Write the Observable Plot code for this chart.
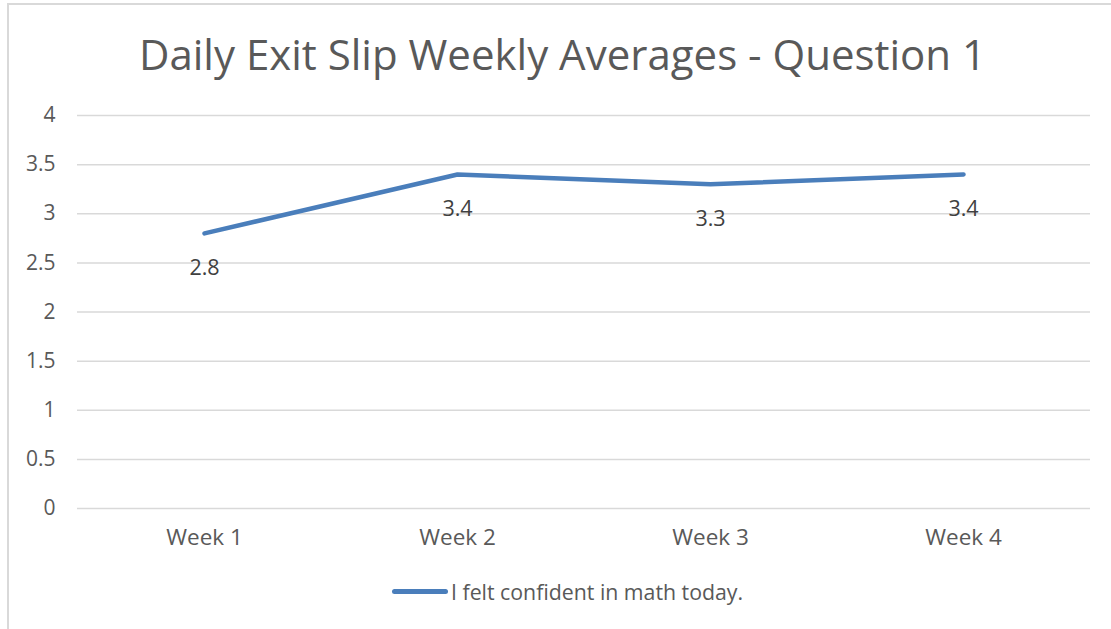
<!DOCTYPE html>
<html>
<head>
<meta charset="utf-8">
<script src="https://cdn.jsdelivr.net/npm/d3@7"></script>
<script src="https://cdn.jsdelivr.net/npm/@observablehq/plot@0.6"></script>
<style>
  html, body { margin: 0; padding: 0; background: #fff; }
  body { width: 1111px; height: 629px; overflow: hidden; position: relative; font-family: "Open Sans", sans-serif; }
  #frame { position: absolute; left: 7px; top: 3px; width: 1120px; height: 640px; border-left: 2px solid #d9d9d9; border-top: 2px solid #d9d9d9; box-sizing: border-box; }
  #title { position: absolute; left: 0; width: 1125px; top: 25px; text-align: center; font-size: 42px; color: #595959; white-space: nowrap; }
  #chart { position: absolute; left: 0; top: 0; }
  #legend { position: absolute; top: 577px; left: 392px; display: flex; align-items: center; font-size: 21.3px; color: #595959; white-space: nowrap; }
  #legend .sw { width: 56px; height: 5px; border-radius: 3px; background: #4a7ebb; margin-right: 3px; }
</style>
</head>
<body>
<div id="frame"></div>
<div id="chart"></div>
<div id="title">Daily Exit Slip Weekly Averages - Question 1</div>
<div id="legend"><span class="sw"></span><span id="legtext"></span></div>
<script>
const weeks = ["Week 1", "Week 2", "Week 3", "Week 4"];
const averages = [2.8, 3.4, 3.3, 3.4];
const yTicks = [0, 0.5, 1, 1.5, 2, 2.5, 3, 3.5, 4];
const seriesName = "I felt confident in math today.";
const lineColor = "#4a7ebb";

const data = weeks.map((w, i) => ({week: w, value: averages[i]}));
document.getElementById("legtext").textContent = seriesName;

const chart = Plot.plot({
  width: 1111,
  height: 629,
  marginLeft: 77,
  marginRight: 21,
  marginTop: 115,
  marginBottom: 121,
  style: {fontFamily: "Open Sans, sans-serif", fontSize: "20px", color: "#595959", background: "transparent", overflow: "visible"},
  x: {type: "point", domain: weeks, padding: 0.5, label: null},
  y: {domain: [0, 4], label: null},
  marks: [
    Plot.gridY(yTicks, {stroke: "#d9d9d9", strokeOpacity: 1, strokeWidth: 1.5}),
    Plot.axisY(yTicks, {tickSize: 0, tickPadding: 22, fontSize: 21, fill: "#595959", tickFormat: d => String(d), label: null}),
    Plot.axisX(weeks, {tickSize: 0, tickPadding: 21, fontSize: 22.5, fill: "#595959", label: null}),
    Plot.line(data, {x: "week", y: "value", stroke: lineColor, strokeWidth: 4.5, strokeLinecap: "round", strokeLinejoin: "round"}),
    Plot.text(data, {x: "week", y: "value", text: d => String(d.value), dy: 35, fontSize: 21.5, fill: "#404040"})
  ]
});
document.getElementById("chart").appendChild(chart);
</script>
</body>
</html>
